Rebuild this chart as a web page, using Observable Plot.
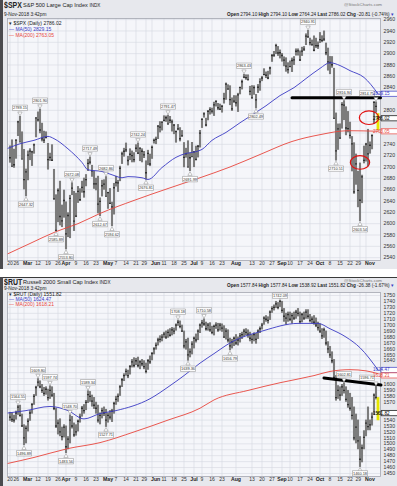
<!DOCTYPE html>
<html><head><meta charset="utf-8">
<script src="https://cdn.jsdelivr.net/npm/d3@7"></script>
<script src="https://cdn.jsdelivr.net/npm/@observablehq/plot@0.6"></script>
<style>
body{margin:0;background:#fff;font-family:"Liberation Sans",Arial,Helvetica,sans-serif;}
#wrap{position:relative;width:397px;height:486px;overflow:hidden;background:#fff;}
.abs{position:absolute;}
.t{position:absolute;white-space:nowrap;line-height:1;color:#222;}
.t b{font-weight:bold;}
</style></head><body><div id="wrap"></div>
<script>
// ---------------- shared x axis (trading-day index) ----------------
const xTickIdx = [0,4,7,14,19,24,28,33,38,43,49,53,58,63,68,71,77,82,87,92,96,101,106,113,121,126,131,136,140,145,150,155,160,165,170,175,178];
const xTickLab = ["20","26","Mar","12","19","26","Apr","9","16","23","May","7","14","21","29","Jun","11","18","25","Jul","9","16","23","Aug","13","20","27","Sep","10","17","24","Oct","8","15","22","29","Nov"];

// ---------------- $SPX daily (Feb 20 – Nov 9, 2018) ----------------
const spxHigh = [
2737.08,2747.75,2731.26,2747.76,2780.64,2789.15,2761.85,2730.89,2696.25,2728.09,
2732.08,2727.67,2740.45,2786.57,2796.98,2801.90,2777.11,2763.03,2761.85,2741.38,
2724.22,2739.14,2695.68,2650.88,2661.36,2674.78,2632.65,2659.07,2638.30,2619.14,
2649.86,2672.08,2656.88,2653.55,2665.45,2661.43,2674.72,2680.26,2686.49,2713.34,
2717.49,2702.84,2692.48,2680.00,2683.55,2645.30,2676.48,2677.35,2682.86,2655.27,
2661.88,2637.91,2670.93,2683.35,2676.34,2701.27,2726.11,2732.86,2742.10,2718.59,
2731.96,2728.09,2725.11,2739.19,2742.24,2733.33,2731.97,2727.36,2710.67,2729.34,
2722.50,2736.93,2749.16,2752.61,2772.39,2779.90,2779.39,2790.21,2789.80,2791.47,
2789.06,2782.81,2774.99,2763.07,2774.86,2769.28,2764.17,2742.94,2732.91,2746.09,
2724.34,2743.26,2727.26,2736.58,2737.83,2764.41,2784.65,2795.58,2785.91,2799.22,
2804.53,2803.71,2814.19,2816.76,2812.05,2810.85,2808.61,2829.99,2848.03,2844.91,
2843.17,2821.74,2825.83,2825.58,2829.91,2840.38,2853.29,2863.43,2862.48,2862.44,
2842.20,2843.40,2843.11,2827.95,2845.39,2855.63,2859.76,2873.23,2867.54,2868.78,
2876.16,2898.25,2903.77,2916.50,2912.46,2906.32,2900.18,2894.21,2892.52,2883.81,
2886.93,2892.11,2894.65,2908.30,2908.30,2904.65,2911.17,2912.36,2934.80,2940.91,
2927.22,2923.95,2931.15,2927.11,2920.53,2937.06,2931.42,2939.86,2918.54,2909.64,
2894.83,2894.70,2874.02,2795.14,2775.77,2775.99,2813.46,2816.94,2806.04,2797.77,
2778.94,2753.59,2742.59,2722.70,2692.38,2706.85,2685.43,2736.69,2741.67,2766.28,
2744.08,2756.82,2815.15,2814.75,2794.10];
const spxLow = [
2706.76,2701.29,2697.77,2713.74,2753.78,2744.22,2713.54,2659.65,2647.32,2675.75,
2711.26,2701.02,2722.65,2751.54,2779.26,2758.68,2744.38,2741.47,2749.97,2694.59,
2710.05,2709.79,2641.59,2585.89,2601.81,2596.12,2593.06,2609.72,2553.80,2575.49,
2573.61,2649.58,2586.27,2610.79,2635.78,2639.25,2653.83,2645.05,2665.16,2692.05,
2703.63,2681.90,2660.61,2657.99,2617.32,2612.67,2647.16,2659.01,2648.04,2625.41,
2633.85,2594.62,2615.32,2664.70,2655.20,2674.14,2704.54,2717.45,2725.47,2701.91,
2711.36,2707.38,2707.42,2725.70,2721.88,2709.54,2707.38,2714.99,2676.81,2702.47,
2700.68,2713.54,2740.54,2739.51,2748.46,2760.16,2763.59,2780.17,2778.78,2774.65,
2776.52,2761.73,2757.12,2742.10,2763.91,2744.39,2752.68,2698.67,2715.60,2699.38,
2691.99,2718.03,2698.95,2711.16,2716.02,2733.52,2768.06,2786.24,2770.77,2781.53,
2791.69,2793.39,2789.24,2805.89,2799.77,2800.17,2795.14,2811.12,2817.73,2835.85,
2808.34,2798.11,2812.30,2805.85,2796.34,2827.37,2835.98,2855.92,2853.09,2852.57,
2825.81,2819.88,2826.58,2802.49,2829.87,2833.73,2850.62,2861.32,2856.05,2854.03,
2862.35,2884.69,2893.50,2898.40,2895.22,2890.73,2885.13,2876.92,2867.29,2864.12,
2875.94,2866.78,2879.20,2895.77,2895.77,2886.16,2895.14,2903.82,2914.39,2927.11,
2913.77,2913.70,2903.28,2909.27,2907.50,2917.91,2919.37,2921.36,2896.39,2869.29,
2862.99,2874.27,2784.86,2710.51,2729.44,2749.03,2766.91,2781.81,2755.18,2760.27,
2749.22,2691.43,2651.89,2667.84,2628.16,2603.54,2635.34,2705.60,2708.85,2699.96,
2722.70,2730.39,2774.87,2794.99,2764.24];
const spxClose = [
2716.26,2701.33,2703.96,2747.30,2779.60,2744.28,2713.83,2677.67,2691.25,2720.94,
2728.12,2726.80,2738.97,2786.57,2783.02,2765.31,2749.48,2747.33,2752.01,2712.92,
2716.94,2711.93,2643.69,2588.26,2658.55,2612.62,2605.00,2640.87,2581.88,2614.45,
2644.69,2662.84,2604.47,2613.16,2656.87,2642.19,2663.99,2656.30,2677.84,2706.39,
2708.64,2693.13,2670.14,2670.29,2634.56,2639.40,2666.94,2669.91,2648.05,2654.80,
2635.67,2629.73,2663.42,2672.63,2671.92,2697.79,2723.07,2727.72,2730.13,2711.45,
2722.46,2720.13,2712.97,2733.01,2724.44,2733.29,2727.76,2721.33,2689.86,2724.01,
2705.27,2734.62,2746.87,2748.80,2772.35,2770.37,2779.03,2782.00,2786.85,2775.63,
2782.49,2779.66,2773.75,2762.59,2767.32,2749.76,2754.88,2717.07,2723.06,2699.63,
2716.31,2718.37,2726.71,2713.22,2736.61,2759.82,2784.17,2793.84,2774.02,2798.29,
2801.31,2798.43,2809.55,2815.62,2804.49,2801.83,2806.98,2820.40,2846.07,2837.44,
2818.82,2802.60,2816.29,2813.36,2827.22,2840.35,2850.40,2858.45,2857.70,2853.58,
2833.28,2821.93,2839.96,2818.37,2840.69,2850.13,2857.05,2862.96,2861.82,2856.98,
2874.69,2896.74,2897.52,2914.04,2901.13,2901.52,2896.72,2888.60,2878.05,2871.68,
2877.13,2887.89,2888.92,2904.18,2904.98,2888.80,2904.31,2907.95,2930.75,2929.67,
2919.37,2915.56,2905.97,2914.00,2913.98,2924.59,2923.43,2925.51,2901.61,2885.57,
2884.43,2880.34,2785.68,2728.37,2767.13,2750.79,2809.92,2809.21,2768.78,2767.78,
2755.88,2740.69,2656.10,2705.57,2658.69,2641.25,2682.63,2711.74,2740.37,2723.06,
2738.31,2755.45,2813.89,2806.83,2786.02];
const spxMa50Idx = [-1,5,12,19,22,29,36,39,46,52,56,59,66,69,76,83,88,93,96,101,108,115,122,128,135,142,148,155,160,165,170,177,184];
const spxMa50Val = [2733,2741,2747,2754,2750,2732,2708,2695,2692,2685,2681,2683,2681,2678,2699,2717,2724,2727,2731,2747,2761,2778,2794,2808,2826,2840,2856,2874,2884,2879,2870,2858,2829.15];
const spxMa200Idx = [-1,10,23,34,45,62,79,95,110,125,141,155,169,184];
const spxMa200Val = [2547,2565,2586,2600,2618,2641,2662,2681,2700,2722,2745,2757,2764,2763.05];
const spxTicks = [2540,2560,2580,2600,2620,2640,2660,2680,2700,2720,2740,2760,2780,2800,2820,2840,2860,2880,2900,2920,2940,2960];
const spxHighLabelIdx = [5,15,31,40,48,64,79,117,149,167,183];
const spxLowLabelIdx = [8,23,28,45,51,68,90,123,163,175];
const spxLineIdx = [141,185.25];
const spxLineVal = [2822,2822];
const spxCircleIdx = [179.5,175];
const spxCircleVal = [2787,2708];

// ---------------- $RUT daily ----------------
const rutHigh = [
1553,1552,1548,1555,1564.55,1565,1550,1532,1530,1542,
1556,1568,1583,1597,1609.80,1606,1600,1595,1596,1592,
1597.74,1596,1585,1560,1540,1542,1528,1532,1530,1512,
1548.70,1546,1535,1532,1540,1550,1563,1566,1573,1589.34,
1588,1582,1578,1570,1565,1552,1560,1562,1558,1552,
1556,1558,1570,1580,1584,1598,1610,1618,1626,1624,
1632,1642,1645,1644,1646,1640,1642,1640,1636,1642,
1648,1654,1662,1670,1678,1682,1684,1688,1690,1692,
1694,1696,1695,1702,1708.18,1707,1700,1690,1676,1678,
1660,1672,1680,1685,1692,1702,1708,1710.58,1705,1703,
1704,1698,1700,1704,1703,1703,1702,1699,1694,1692,
1678,1676,1680,1684,1680,1686,1688,1693,1694,1692,
1688,1684,1687,1686,1692,1697,1703,1714,1716,1714,
1724,1731,1734,1740,1738,1742.09,1740,1728,1720,1722,
1722,1720,1722,1725,1728,1722,1720,1722,1726,1726,
1718,1714,1716,1712,1705,1702,1694,1695,1690,1672,
1664,1655,1642,1615,1598,1596,1600,1602.81,1596,1590,
1585,1578,1562,1550,1540,1512,1498,1522,1540,1562,
1540,1552,1584,1596.71,1577.84];
const rutLow = [
1538,1536,1535,1540,1548,1545,1528,1496.89,1500,1520,
1538,1550,1565,1580,1596,1593,1585,1580,1582,1572,
1575,1578,1556,1526,1515,1512,1505,1510,1483.56,1490,
1500,1525,1511,1513,1520,1535,1545,1550,1556,1568,
1570,1562,1558,1550,1535,1532,1542,1546,1527.71,1535,
1540,1536,1550,1565,1570,1580,1595,1605,1614,1610,
1616,1628,1628,1632,1628,1625,1630,1625,1618,1624,
1634,1640,1650,1658,1665,1670,1672,1678,1676,1678,
1680,1682,1684,1690,1698,1694,1688,1660,1658,1639.36,
1645,1650,1660,1670,1674,1686,1695,1698,1690,1690,
1688,1684,1682,1693,1688,1690,1688,1678,1675,1670,
1656.79,1660,1664,1666,1665,1670,1676,1680,1682,1678,
1672,1668,1672,1668,1676,1686,1692,1700,1705,1702,
1708,1720,1724,1728,1726,1730,1720,1705,1700,1705,
1706,1702,1708,1710,1714,1702,1704,1708,1710,1710,
1704,1702,1700,1696,1690,1686,1676,1678,1665,1652,
1644,1635,1608,1572,1575,1572,1580,1584,1570,1560,
1555,1540,1505,1500,1490,1460.18,1468,1490,1512,1522,
1522,1530,1548,1574,1538.92];
const rutClose = [
1545,1541,1540,1552,1562,1548,1530,1510,1526,1538,
1552,1566,1580,1595,1604,1596,1590,1585,1592,1578,
1590,1582,1560,1530,1535,1520,1512,1528,1495,1508,
1540,1530,1515,1520,1538,1545,1560,1556,1570,1583,
1580,1572,1565,1560,1540,1548,1556,1552,1540,1548,
1545,1555,1568,1575,1580,1596,1608,1615,1622,1615,
1630,1638,1632,1640,1632,1638,1635,1630,1622,1640,
1638,1652,1660,1666,1675,1676,1680,1685,1680,1688,
1683,1692,1690,1700,1705,1698,1690,1665,1672,1650,
1655,1668,1678,1675,1690,1700,1704,1702,1694,1700,
1692,1688,1698,1700,1692,1700,1695,1680,1690,1675,
1665,1672,1678,1670,1675,1682,1684,1690,1688,1685,
1678,1676,1684,1676,1690,1694,1700,1712,1710,1708,
1722,1728,1730,1736,1730,1740,1725,1715,1712,1718,
1710,1716,1712,1722,1720,1706,1718,1712,1722,1715,
1708,1710,1705,1700,1696,1690,1682,1692,1670,1660,
1650,1640,1612,1578,1590,1582,1596,1590,1575,1566,
1560,1548,1510,1528,1505,1474,1493,1511,1535,1529,
1532,1545,1582,1578.20,1551.82];
const rutMa50Idx = [-1,8,20,29,37,45,53,70,80,87,95,102,110,127,144,154,160,168,175,184];
const rutMa50Val = [1552,1556,1563,1556,1542,1551,1556,1576,1598,1615,1636,1652,1670,1691,1703,1703,1694,1680,1662,1624.47];
const rutMa200Idx = [-1,12,29,45,62,79,95,102,119,135,152,160,170,178,184];
const rutMa200Val = [1467,1477,1492,1502,1520,1540,1560,1574,1590,1603,1615,1622,1625,1623,1618.21];
const rutTicks = [1450,1460,1470,1480,1490,1500,1510,1520,1530,1540,1550,1560,1570,1580,1590,1600,1610,1620,1630,1640,1650,1660,1670,1680,1690,1700,1710,1720,1730,1740,1750];
const rutHighLabelIdx = [4,14,20,30,39,84,97,135,167,183];
const rutLowLabelIdx = [7,28,48,89,110,175];
const rutLineIdx = [157,185.5];
const rutLineVal = [1611,1599];

// ---------------- drawing ----------------
const FONT = '"Liberation Sans", Arial, Helvetica, sans-serif';
const BLUE = "#3a3ac4", RED = "#e8453c";
const XDOM = [-1.25, 185.25];
const wrap = document.getElementById("wrap");

function boxSym(w, h) {
  return {draw(ctx) { ctx.moveTo(-w/2,-h/2); ctx.lineTo(w/2,-h/2); ctx.lineTo(w/2,h/2); ctx.lineTo(-w/2,h/2); ctx.closePath(); }};
}
const ellipseSym = {draw(ctx, size) {
  const r = Math.sqrt(size/Math.PI), rx = r*1.42, ry = r, k = 0.5523;
  ctx.moveTo(rx,0);
  ctx.bezierCurveTo(rx,k*ry,k*rx,ry,0,ry);
  ctx.bezierCurveTo(-k*rx,ry,-rx,k*ry,-rx,0);
  ctx.bezierCurveTo(-rx,-k*ry,-k*rx,-ry,0,-ry);
  ctx.bezierCurveTo(k*rx,-ry,rx,-k*ry,rx,0);
  ctx.closePath();
}};

// x-axis labels: adjacent pairs (e.g. "29Nov") are anchored toward each other
const xt = xTickIdx.map((i,k) => ({i, s:xTickLab[k], bold: isNaN(+xTickLab[k]), anchor: "middle"}));
for (let k = 0; k + 1 < xt.length; k++) if (xt[k+1].i - xt[k].i <= 3) { xt[k].anchor = "end"; xt[k+1].anchor = "start"; }

function panel(o) {
  const ppu = (o.height - o.mt - o.mb) / (o.yDomain[1] - o.yDomain[0]);   // px per price unit
  const ppx = (397 - 7 - 17) / (XDOM[1] - XDOM[0]);                       // px per trading day
  const clampX = i => Math.max(XDOM[0] + 8/ppx, Math.min(XDOM[1] - 13.5/ppx, i));
  const rows = o.close.map((c,i) => ({i, h:o.high[i], l:o.low[i], c}));
  const body = rows.slice(0,-1), last = rows.slice(-1);
  const highs = o.hiIdx.map(i => ({i, v:o.high[i], xi: clampX(i),
    lv: Math.min(o.high[i] + 8.6/ppu, o.yDomain[1] - 3.2/ppu)}));
  const lows = o.loIdx.map(i => ({i, v:o.low[i], xi: clampX(i),
    lv: Math.max(o.low[i] - 7.6/ppu, o.yDomain[0] + 3.2/ppu)}));
  const ma50 = o.ma50i.map((i,k) => ({i, v:o.ma50v[k]}));
  const ma200 = o.ma200i.map((i,k) => ({i, v:o.ma200v[k]}));
  const resist = o.lineIdx.map((i,k) => ({i, v:o.lineVal[k]}));
  const circles = (o.circIdx||[]).map((i,k) => ({i, v:o.circVal[k]}));
  // right-edge value boxes: keep them from overlapping, hide tick labels underneath
  const gap = 5.4 / ppu;
  const boxes = o.boxes.map(b => ({...b, p: b.v})).sort((a,b) => b.v - a.v);
  for (let k = 1; k < boxes.length; k++) if (boxes[k-1].p - boxes[k].p < gap) boxes[k].p = boxes[k-1].p - gap;
  const tickShown = o.ticks.filter(t => boxes.every(b => Math.abs(b.p - t) * ppu > 5.4));
  const lb = boxSym(15,5.4), rb = boxSym(17,5.2);
  const labStyle = {fill: "#fff", stroke: "#8a8a8a", strokeWidth: 0.5};
  const xLab = (bold, anchor, dx) => Plot.text(xt.filter(d => d.bold === bold && d.anchor === anchor),
    {x: "i", text: "s", frameAnchor: "bottom", dy: 4.6, dx, textAnchor: anchor,
     fontSize: bold ? 5.2 : 5, fontWeight: bold ? "bold" : "normal", fill: bold ? "#222" : "#333"});
  return Plot.plot({
    width: 397, height: o.height, marginLeft: 7, marginRight: 17, marginTop: o.mt, marginBottom: o.mb,
    x: {domain: XDOM, axis: null},
    y: {domain: o.yDomain, axis: null},
    color: {type: "identity"},
    style: {background: "transparent", fontFamily: FONT, overflow: "visible"},
    marks: [
      Plot.frame({fill: "#f5f6fa"}),
      Plot.gridY(o.ticks, {stroke: "#d5d8e1", strokeOpacity: 1, strokeWidth: 0.6}),
      Plot.gridX(xTickIdx, {stroke: "#d5d8e1", strokeOpacity: 1, strokeWidth: 0.6}),
      Plot.frame({stroke: "#a3a6b0", strokeWidth: 0.8}),
      Plot.ruleX(body, {x: "i", y1: "l", y2: "h", stroke: "#7c7c7c", strokeWidth: 2.1}),
      Plot.ruleX(last, {x: "i", y1: "l", y2: "h", stroke: "#e6e600", strokeWidth: 2.8}),
      Plot.dot(rows, {x: "i", y: "c", r: 0.75, symbol: "square", fill: "#111"}),
      Plot.line(ma200, {x: "i", y: "v", stroke: RED, strokeWidth: 0.9, curve: "monotone-x"}),
      Plot.line(ma50, {x: "i", y: "v", stroke: BLUE, strokeWidth: 0.9, curve: "monotone-x"}),
      Plot.line(resist, {x: "i", y: "v", stroke: "#000", strokeWidth: 3}),
      Plot.dot(circles, {x: "i", y: "v", r: 6.8, symbol: ellipseSym, stroke: "#e01010", strokeWidth: 1.2, fill: "none"}),
      // swing high / low labels
      Plot.dot(highs, {x: "i", y: "v", dy: -3.2, r: 1.6, symbol: "triangle", rotate: 180, ...labStyle}),
      Plot.dot(highs, {x: "xi", y: "lv", symbol: lb, ...labStyle}),
      Plot.text(highs, {x: "xi", y: "lv", dy: 0.2, text: d => d.v.toFixed(2), fontSize: 3.9, fill: "#333"}),
      Plot.dot(lows, {x: "i", y: "v", dy: 2.6, r: 1.6, symbol: "triangle", ...labStyle}),
      Plot.dot(lows, {x: "xi", y: "lv", symbol: lb, ...labStyle}),
      Plot.text(lows, {x: "xi", y: "lv", dy: 0.2, text: d => d.v.toFixed(2), fontSize: 3.9, fill: "#333"}),
      // right axis
      Plot.text(tickShown, {y: d => d, text: d => String(d), frameAnchor: "right", dx: 3, textAnchor: "start", fontSize: 5.2, fill: "#333"}),
      Plot.dot(boxes, {y: "p", frameAnchor: "right", dx: 9, symbol: rb, fill: "#fff", stroke: "c", strokeWidth: 0.7}),
      Plot.text(boxes, {y: "p", frameAnchor: "right", dx: 9, text: d => d.v.toFixed(2), fill: "c", fontSize: 4.6}),
      // bottom axis
      xLab(false, "middle", 0), xLab(false, "end", 1), xLab(false, "start", -1),
      xLab(true, "middle", 0), xLab(true, "end", 1), xLab(true, "start", -1)
    ]
  });
}

function el(tag, cls, style, html) {
  const d = document.createElement(tag); if (cls) d.className = cls;
  Object.assign(d.style, style); if (html != null) d.innerHTML = html; wrap.appendChild(d); return d;
}

// panel backgrounds
el("div", "abs", {left:"0px", top:"0px", width:"397px", height:"269px", background:"#e7e8ed"});
el("div", "abs", {left:"0px", top:"0px", width:"3px", height:"269px", background:"#4a4a4e"});
el("div", "abs", {left:"0px", top:"277px", width:"397px", height:"209px", background:"#e7e8ed", borderTop:"1px solid #3a3a3a", boxSizing:"border-box"});
el("div", "abs", {left:"0px", top:"277px", width:"3px", height:"209px", background:"#4a4a4e"});

const spxPlot = panel({high: spxHigh, low: spxLow, close: spxClose, ma50i: spxMa50Idx, ma50v: spxMa50Val,
  ma200i: spxMa200Idx, ma200v: spxMa200Val, ticks: spxTicks, hiIdx: spxHighLabelIdx, loIdx: spxLowLabelIdx,
  lineIdx: spxLineIdx, lineVal: spxLineVal, circIdx: spxCircleIdx, circVal: spxCircleVal,
  boxes: [{v: 2829.15, c: BLUE}, {v: 2786.02, c: "#000"}, {v: 2763.05, c: RED}],
  height: 270, mt: 18, mb: 10, yDomain: [2535, 2962]});
spxPlot.style.position = "absolute"; spxPlot.style.left = "0px"; spxPlot.style.top = "0px";
wrap.appendChild(spxPlot);

const rutPlot = panel({high: rutHigh, low: rutLow, close: rutClose, ma50i: rutMa50Idx, ma50v: rutMa50Val,
  ma200i: rutMa200Idx, ma200v: rutMa200Val, ticks: rutTicks, hiIdx: rutHighLabelIdx, loIdx: rutLowLabelIdx,
  lineIdx: rutLineIdx, lineVal: rutLineVal,
  boxes: [{v: 1624.47, c: BLUE}, {v: 1618.21, c: RED}, {v: 1551.82, c: "#000"}],
  height: 210, mt: 16, mb: 10, yDomain: [1444.9, 1755.1]});
rutPlot.style.position = "absolute"; rutPlot.style.left = "0px"; rutPlot.style.top = "276px";
wrap.appendChild(rutPlot);

// headers & legends
function header(y0, sym, name, ohlc, leg, o) {
  el("div", "t", {left:"4px", top:(y0+1)+"px", fontSize:"8.5px", fontWeight:"bold", transform:"scaleX(0.82)", transformOrigin:"left top"}, sym);
  el("div", "t", {left:"23px", top:(y0+3)+"px", fontSize:"5.6px"}, name);
  el("div", "t", {left:"4px", top:(y0+o.dateY)+"px", fontSize:"4.8px"}, "9-Nov-2018 3:42pm");
  el("div", "t", {right:"15px", top:(y0+o.scY)+"px", fontSize:"4.4px", color:"#777"}, "@StockCharts.com");
  el("div", "t", {right:"3px", top:(y0+o.ohlcY)+"px", fontSize:"4.7px"}, ohlc + ' <span style="color:#3a3ac4">&#9662;</span>');
  el("div", "t", {left:"9px", top:o.legY+"px", fontSize:"5px"}, "&#9662; " + leg[0]);
  el("div", "t", {left:"9px", top:(o.legY+o.legStep)+"px", fontSize:"5px", color:BLUE}, "&#8212; " + leg[1]);
  el("div", "t", {left:"9px", top:(o.legY+2*o.legStep)+"px", fontSize:"5px", color:RED}, "&#8212; " + leg[2]);
}
header(0, "$SPX", "S&amp;P 500 Large Cap Index <span style='font-size:4.6px'>INDX</span>",
  "<b>Open</b> 2794.10 <b>High</b> 2794.10 <b>Low</b> 2764.24 <b>Last</b> 2786.02 <b>Chg</b> -20.81 (-0.74%)",
  ["$SPX (Daily) 2786.02", "MA(50) 2829.15", "MA(200) 2763.05"],
  {dateY: 12.5, scY: 3, ohlcY: 12.5, legY: 20.5, legStep: 6});
header(277, "$RUT", "Russell 2000 Small Cap Index <span style='font-size:4.6px'>INDX</span>",
  "<b>Open</b> 1577.84 <b>High</b> 1577.84 <b>Low</b> 1538.92 <b>Last</b> 1551.82 <b>Chg</b> -26.38 (-1.67%)",
  ["$RUT (Daily) 1551.82", "MA(50) 1624.47", "MA(200) 1618.21"],
  {dateY: 10, scY: 1.5, ohlcY: 6.5, legY: 291.5, legStep: 5});
</script></body></html>
